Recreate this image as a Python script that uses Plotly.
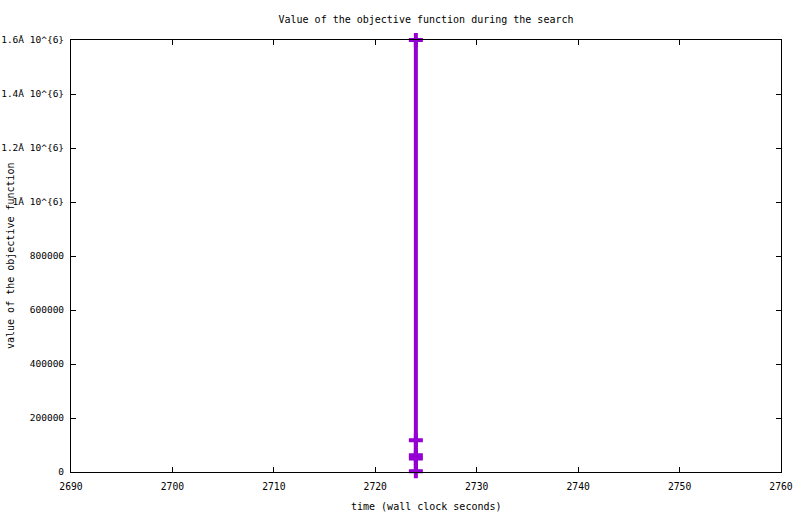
import plotly.graph_objects as go

# data
times = [2724.0, 2724.0, 2724.0, 2724.0, 2724.0]
values = [1600000, 118000, 62000, 50000, 3000]

y_tickvals = [0, 200000, 400000, 600000, 800000, 1000000, 1200000, 1400000, 1600000]
y_ticktext = ["0", "200000", "400000", "600000", "800000",
              "1Ã 10^{6}", "1.2Ã 10^{6}", "1.4Ã 10^{6}", "1.6Ã 10^{6}"]
x_tickvals = [2690, 2700, 2710, 2720, 2730, 2740, 2750, 2760]

color = "#9400D3"
font = "DejaVu Sans Mono"

fig = go.Figure()
fig.add_trace(go.Scatter(
    x=times, y=values, mode="lines+markers",
    line=dict(color=color, width=4),
    marker=dict(symbol="cross-thin", size=10, color=color,
                line=dict(color=color, width=4)),
    cliponaxis=False, showlegend=False,
))

axis_common = dict(
    showgrid=False, zeroline=False, showline=True, linecolor="black",
    linewidth=1, mirror="ticks", ticks="inside", ticklen=5,
    tickcolor="black", tickwidth=1, automargin=False,
)

fig.update_layout(
    width=800, height=514,
    margin=dict(l=71, r=19, t=40, b=42),
    paper_bgcolor="white", plot_bgcolor="white",
    font=dict(family=font, size=10, color="black"),
    title=dict(text="Value of the objective function during the search",
               x=(71 + 781) / 2 / 800, xanchor="center",
               y=1 - 19 / 514, yanchor="middle",
               font=dict(family=font, size=10)),
    xaxis=dict(range=[2690, 2760], tickvals=x_tickvals,
               ticklabelstandoff=5,
               tickfont=dict(family=font, size=9.7, color="black"),
               **axis_common),
    yaxis=dict(range=[0, 1600000], tickvals=y_tickvals, ticktext=y_ticktext,
               ticklabelstandoff=4,
               tickfont=dict(family=font, size=9.5, color="black"),
               **axis_common),
    annotations=[
        dict(text="time (wall clock seconds)", xref="paper", yref="paper",
             x=0.5, y=-34 / 432, xanchor="center", yanchor="middle",
             showarrow=False, font=dict(family=font, size=10)),
        dict(text="value of the objective function", xref="paper", yref="paper",
             x=-61 / 710, y=0.5, xanchor="center", yanchor="middle",
             textangle=-90, showarrow=False, font=dict(family=font, size=10)),
    ],
)

fig.write_html("out.html",
               config={"displayModeBar": False},
               post_script="document.body.style.margin='0px';document.body.style.padding='0px';document.body.style.overflow='hidden';")
